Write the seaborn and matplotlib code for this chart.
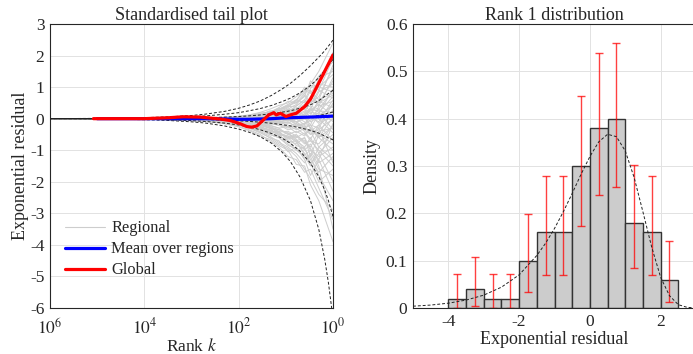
import matplotlib
matplotlib.use('Agg')
import matplotlib.pyplot as plt
from matplotlib.lines import Line2D
from matplotlib.ticker import NullLocator
import pandas as pd
import seaborn as sns

# ---------------- left panel: standardised tail plot ----------------
# ranks at which the regional curves were read
k_reg = [1, 2, 3, 4, 6, 9, 14, 22, 35, 60, 100, 200, 500, 2000, 10000, 1000000]
regional = [
    [2.4, 1.5, 1.1, 0.85, 0.6, 0.45, 0.3, 0.22, 0.15, 0.1, 0.07, 0.05, 0.03, 0.01, 0.0, 0],
    [2.1, 1.2, 0.8, 0.9, 0.7, 0.5, 0.42, 0.3, 0.2, 0.12, 0.08, 0.04, 0.02, 0.01, 0.0, 0],
    [1.8, 1.35, 0.95, 0.6, 0.4, 0.38, 0.25, 0.12, 0.09, 0.06, 0.03, 0.02, 0.01, 0.0, 0, 0],
    [1.6, 0.7, 0.5, 0.55, 0.3, 0.15, 0.2, 0.1, 0.02, -0.02, 0.01, 0.0, 0.01, 0, 0, 0],
    [1.4, 1.0, 0.6, 0.3, 0.35, 0.25, 0.1, 0.05, 0.08, 0.04, 0.02, 0.01, 0, 0, 0, 0],
    [1.2, 0.5, 0.7, 0.45, 0.2, 0.1, 0.05, -0.05, -0.02, 0.01, -0.01, 0, 0, 0, 0, 0],
    [1.1, 0.85, 0.3, 0.1, 0.25, 0.3, 0.15, 0.12, 0.05, 0.03, 0.04, 0.02, 0.01, 0, 0, 0],
    [0.9, 0.3, 0.4, 0.35, 0.15, 0.2, 0.08, 0.06, 0.07, 0.03, 0.01, 0.0, 0, 0, 0, 0],
    [0.8, 0.6, 0.1, 0.05, 0.2, 0.05, 0.1, 0.12, 0.05, 0.02, 0.0, -0.01, 0, 0, 0, 0],
    [0.7, 0.2, 0.35, 0.15, 0.0, 0.08, 0.0, 0.03, -0.02, 0.0, 0.01, 0.0, 0, 0, 0, 0],
    [0.6, -0.1, 0.05, 0.25, 0.1, 0.2, 0.05, 0.0, -0.04, 0.02, 0.01, 0.02, 0.01, 0, 0, 0],
    [0.55, 0.4, -0.2, -0.3, -0.1, 0.0, 0.08, 0.02, 0.05, 0.0, -0.02, 0.0, 0, 0, 0, 0],
    [0.5, -0.3, -0.2, 0.05, -0.1, -0.05, 0.0, -0.03, 0.0, -0.02, -0.01, 0.0, 0, 0, 0, 0],
    [0.4, 0.1, 0.05, -0.15, -0.25, -0.12, -0.08, -0.1, -0.05, -0.03, -0.02, -0.01, 0, 0, 0, 0],
    [0.3, -0.5, -0.3, 0.05, 0.0, -0.15, -0.1, 0.0, -0.06, -0.02, -0.03, -0.01, 0, 0, 0, 0],
    [0.2, 0.25, 0.3, 0.15, 0.05, -0.05, 0.1, 0.06, 0.02, 0.05, 0.02, 0.01, 0, 0, 0, 0],
    [0.15, -0.2, -0.4, -0.3, -0.1, 0.0, -0.12, -0.06, -0.02, -0.04, -0.02, -0.02, -0.01, 0, 0, 0],
    [0.05, -0.6, -0.2, -0.25, -0.35, -0.2, -0.12, -0.12, -0.06, -0.04, -0.04, -0.02, -0.01, 0, 0, 0],
    [-0.1, 0.3, 0.05, 0.0, 0.2, 0.22, 0.05, 0.0, 0.06, 0.02, 0.0, 0.0, 0, 0, 0, 0],
    [-0.2, -0.8, -0.7, -0.45, -0.6, -0.5, -0.35, -0.3, -0.2, -0.12, -0.09, -0.06, -0.03, -0.01, 0, 0],
    [-0.3, -0.4, -0.9, -0.75, -0.5, -0.6, -0.45, -0.28, -0.22, -0.15, -0.1, -0.07, -0.04, -0.01, 0, 0],
    [-0.45, 0.0, 0.3, 0.0, -0.1, 0.05, -0.05, -0.04, -0.02, 0.0, -0.02, 0.0, 0, 0, 0, 0],
    [-0.6, -1.1, -0.6, -0.9, -0.7, -0.55, -0.5, -0.35, -0.25, -0.18, -0.12, -0.08, -0.04, -0.02, 0, 0],
    [-0.8, -0.5, -1.2, -0.6, -0.8, -0.7, -0.4, -0.42, -0.3, -0.2, -0.14, -0.09, -0.05, -0.02, -0.01, 0],
    [-1.1, -1.4, -0.8, -1.0, -0.65, -0.45, -0.55, -0.3, -0.2, -0.16, -0.1, -0.06, -0.03, -0.01, 0, 0],
    [-1.3, -0.9, -1.5, -1.2, -1.0, -0.8, -0.6, -0.5, -0.35, -0.25, -0.16, -0.1, -0.06, -0.02, -0.01, 0],
    [-1.8, -1.6, -1.1, -1.4, -1.1, -0.9, -0.75, -0.55, -0.4, -0.28, -0.2, -0.12, -0.07, -0.03, -0.01, 0],
    [-2.3, -1.3, -1.8, -1.3, -0.9, -1.05, -0.7, -0.6, -0.45, -0.3, -0.2, -0.13, -0.07, -0.03, -0.01, 0],
    [-3.2, -2.2, -1.6, -1.7, -1.3, -1.2, -0.9, -0.7, -0.5, -0.35, -0.24, -0.15, -0.08, -0.03, -0.01, 0],
    [-3.9, -2.6, -2.1, -1.5, -1.45, -1.0, -0.85, -0.65, -0.55, -0.38, -0.26, -0.16, -0.09, -0.04, -0.01, 0],
    [1.9, 0.9, 1.2, 0.7, 0.5, 0.55, 0.35, 0.2, 0.18, 0.1, 0.06, 0.04, 0.02, 0.01, 0, 0],
    [1.5, 1.3, 0.5, 0.75, 0.45, 0.3, 0.32, 0.18, 0.1, 0.08, 0.05, 0.03, 0.01, 0, 0, 0],
    [1.3, 0.4, 0.9, 0.5, 0.6, 0.35, 0.2, 0.25, 0.12, 0.07, 0.05, 0.02, 0.01, 0, 0, 0],
    [1.0, 1.1, 0.65, 0.4, 0.15, 0.28, 0.18, 0.08, 0.1, 0.05, 0.03, 0.02, 0.0, 0, 0, 0],
    [0.95, 0.15, 0.2, 0.45, 0.3, 0.1, 0.14, 0.1, 0.04, 0.06, 0.02, 0.01, 0.01, 0, 0, 0],
    [0.75, 0.5, 0.55, 0.2, 0.1, 0.18, 0.06, 0.1, 0.06, 0.01, 0.02, 0.0, 0, 0, 0, 0],
    [0.65, 0.9, 0.45, 0.6, 0.4, 0.22, 0.26, 0.15, 0.1, 0.07, 0.04, 0.03, 0.01, 0, 0, 0],
    [0.45, 0.05, -0.1, 0.1, 0.05, -0.08, 0.03, 0.05, 0.0, -0.01, 0.0, 0.0, 0, 0, 0, 0],
    [0.35, 0.55, 0.15, 0.3, 0.25, 0.12, 0.0, 0.02, 0.04, 0.02, 0.0, 0.01, 0, 0, 0, 0],
    [0.25, -0.15, 0.1, -0.2, 0.0, 0.1, -0.02, -0.05, 0.01, -0.02, 0.0, -0.01, 0, 0, 0, 0],
    [0.1, 0.45, 0.25, 0.1, -0.15, -0.05, 0.04, -0.02, -0.04, 0.0, -0.01, 0.0, 0, 0, 0, 0],
    [0.0, -0.35, -0.5, -0.2, -0.25, -0.1, -0.16, -0.08, -0.07, -0.03, -0.03, -0.01, 0, 0, 0, 0],
    [-0.05, 0.15, -0.3, -0.1, 0.05, -0.05, -0.1, 0.0, -0.03, -0.01, 0.0, 0.0, 0, 0, 0, 0],
    [-0.25, -0.6, -0.35, -0.5, -0.3, -0.35, -0.2, -0.15, -0.1, -0.07, -0.05, -0.03, -0.01, 0, 0, 0],
    [-0.35, 0.2, -0.05, -0.15, -0.2, 0.0, -0.06, -0.1, -0.04, -0.03, -0.01, -0.01, 0, 0, 0, 0],
    [-0.5, -0.9, -0.4, -0.3, -0.45, -0.25, -0.3, -0.2, -0.12, -0.08, -0.06, -0.03, -0.02, 0, 0, 0],
    [-0.7, -0.2, -0.65, -0.4, -0.2, -0.3, -0.15, -0.18, -0.1, -0.06, -0.04, -0.02, -0.01, 0, 0, 0],
    [-0.9, -1.2, -1.0, -0.7, -0.55, -0.4, -0.42, -0.25, -0.18, -0.12, -0.08, -0.05, -0.02, -0.01, 0, 0],
    [-1.0, -0.6, -0.3, -0.55, -0.4, -0.5, -0.3, -0.22, -0.15, -0.1, -0.07, -0.04, -0.02, 0, 0, 0],
    [-1.2, -1.7, -1.3, -0.95, -0.85, -0.6, -0.45, -0.38, -0.25, -0.17, -0.12, -0.07, -0.04, -0.01, 0, 0],
    [-1.5, -1.0, -0.7, -0.8, -0.55, -0.65, -0.4, -0.3, -0.2, -0.13, -0.09, -0.06, -0.03, -0.01, 0, 0],
    [-1.6, -2.0, -1.4, -1.1, -0.75, -0.55, -0.5, -0.35, -0.28, -0.18, -0.13, -0.08, -0.04, -0.02, 0, 0],
    [-2.0, -1.1, -1.45, -0.9, -1.0, -0.7, -0.55, -0.45, -0.3, -0.22, -0.15, -0.09, -0.05, -0.02, 0, 0],
    [-2.6, -1.8, -1.2, -1.25, -0.95, -0.85, -0.6, -0.5, -0.35, -0.22, -0.16, -0.1, -0.05, -0.02, 0, 0],
    [-2.9, -2.4, -1.9, -1.6, -1.2, -0.95, -0.8, -0.6, -0.42, -0.3, -0.2, -0.13, -0.07, -0.03, -0.01, 0],
    [-3.5, -1.5, -1.0, -1.15, -0.7, -0.75, -0.5, -0.4, -0.3, -0.2, -0.14, -0.09, -0.05, -0.02, 0, 0],
    [1.7, 0.6, 0.85, 1.0, 0.55, 0.4, 0.28, 0.22, 0.14, 0.09, 0.06, 0.04, 0.02, 0.01, 0, 0],
    [0.85, 1.0, 1.05, 0.8, 0.5, 0.42, 0.3, 0.17, 0.12, 0.08, 0.05, 0.03, 0.01, 0, 0, 0],
    [-0.15, -1.3, -0.95, -0.6, -0.7, -0.45, -0.35, -0.25, -0.16, -0.1, -0.07, -0.04, -0.02, 0, 0, 0],
    [-1.4, -0.3, -0.5, -0.35, -0.15, -0.25, -0.22, -0.12, -0.08, -0.05, -0.04, -0.02, -0.01, 0, 0, 0],
]

k_mean = [1, 2, 3, 5, 8, 12, 20, 35, 60, 100, 200, 500, 1000, 3000, 10000, 100000]
mean_res = [0.08, 0.06, 0.05, 0.04, 0.03, 0.02, 0.0, -0.01, -0.02, -0.02, -0.01, 0.0, 0.0, 0.0, 0.0, 0.0]

k_glob = [1, 2, 3, 4, 6, 8, 10, 13, 16, 18, 23, 30, 41, 53, 67, 93, 150, 250, 650, 1500, 3000, 10000, 120000]
glob_res = [2.02, 1.13, 0.62, 0.38, 0.17, 0.12, 0.07, 0.17, 0.12, 0.19, 0.12, -0.04, -0.23, -0.27,
            -0.25, -0.16, -0.06, -0.01, 0.05, 0.06, 0.03, 0.0, 0.0]

# pointwise quantile envelopes (dashed)
k_band = [1, 1.25, 1.5, 2, 3, 5, 8, 12, 20, 35, 60, 100, 200, 500, 1000, 3000, 10000, 100000, 1000000]
band_999 = [2.49, 2.30, 2.15, 1.95, 1.68, 1.37, 1.12, 0.94, 0.74, 0.56, 0.43, 0.33, 0.23, 0.145, 0.10, 0.058, 0.032, 0.01, 0.0]
band_975 = [1.88, 1.69, 1.53, 1.30, 1.05, 0.82, 0.65, 0.54, 0.42, 0.32, 0.25, 0.19, 0.14, 0.087, 0.062, 0.036, 0.02, 0.006, 0.0]
band_750 = [0.90, 0.80, 0.71, 0.57, 0.44, 0.33, 0.25, 0.205, 0.157, 0.117, 0.089, 0.068, 0.048, 0.030, 0.021, 0.012, 0.007, 0.002, 0.0]
band_500 = [0.21, 0.18, 0.14, 0.095, 0.063, 0.036, 0.022, 0.014, 0.009, 0.005, 0.003, 0.002, 0.001, 0, 0, 0, 0, 0, 0]
band_250 = [-0.67, -0.61, -0.55, -0.46, -0.37, -0.29, -0.23, -0.19, -0.147, -0.112, -0.086, -0.067, -0.047, -0.030, -0.021, -0.012, -0.007, -0.002, 0]
band_025 = [-3.10, -2.60, -2.26, -1.84, -1.41, -1.03, -0.78, -0.62, -0.47, -0.35, -0.26, -0.20, -0.14, -0.089, -0.062, -0.036, -0.02, -0.006, 0]
band_001 = [-6.33, -5.20, -4.45, -3.51, -2.60, -1.85, -1.36, -1.06, -0.78, -0.57, -0.43, -0.33, -0.23, -0.14, -0.10, -0.058, -0.032, -0.01, 0]

# ---------------- right panel: rank 1 distribution ----------------
bin_edges = [-4, -3.5, -3, -2.5, -2, -1.5, -1, -0.5, 0, 0.5, 1, 1.5, 2, 2.5]
bin_mid = [-3.75, -3.25, -2.75, -2.25, -1.75, -1.25, -0.75, -0.25, 0.25, 0.75, 1.25, 1.75, 2.25]
density = [0.02, 0.04, 0.02, 0.02, 0.10, 0.16, 0.16, 0.30, 0.38, 0.40, 0.18, 0.16, 0.06]
ci_low = [0.0, 0.004, 0.0, 0.0, 0.033, 0.070, 0.070, 0.174, 0.238, 0.255, 0.084, 0.070, 0.013]
ci_high = [0.072, 0.108, 0.072, 0.072, 0.199, 0.279, 0.279, 0.447, 0.538, 0.559, 0.303, 0.279, 0.141]

fit_x = [-5, -4.5, -4, -3.5, -3, -2.5, -2, -1.5, -1.25, -1, -0.75, -0.5, -0.25, 0, 0.25, 0.5,
         0.75, 1, 1.25, 1.5, 1.75, 2, 2.25, 2.5, 2.75, 3]
fit_y = [0.0038, 0.0062, 0.0102, 0.0167, 0.0272, 0.044, 0.070, 0.111, 0.137, 0.168, 0.2035, 0.242,
         0.2825, 0.320, 0.351, 0.367, 0.362, 0.332, 0.276, 0.203, 0.128, 0.065, 0.026, 0.007, 0.0014, 0.0001]

sns.set_style('whitegrid')
plt.rcParams['font.family'] = ['Liberation Serif', 'DejaVu Serif']
plt.rcParams['mathtext.fontset'] = 'stix'
plt.rcParams['axes.unicode_minus'] = False

fs = 12.5
dark = '#262626'
gridc = '#e2e2e2'
dash = (0, (3, 2))

fig = plt.figure(figsize=(6.93, 3.54), dpi=100)
ax1 = fig.add_axes([50/693, 46/354, 283/693, 284/354])
ax2 = fig.add_axes([413/693, 46/354, 283/693, 284/354])

# left
reg_df = pd.DataFrame([(i, k, v) for i, row in enumerate(regional) for k, v in zip(k_reg, row)],
                      columns=['region', 'k', 'res'])
ax1.set_xscale('log')
sns.lineplot(data=reg_df, x='k', y='res', units='region', estimator=None,
             color='#cdcdcd', lw=0.7, ax=ax1, legend=False)
for b in [band_999, band_975, band_750, band_500, band_250, band_025, band_001]:
    ax1.plot(k_band, b, color='#222222', ls=dash, lw=0.7)
sns.lineplot(x=k_mean, y=mean_res, color='#0000ff', lw=2.3, ax=ax1)
sns.lineplot(x=k_glob, y=glob_res, color='#ff0000', lw=2.3, ax=ax1)

ax1.set_xlim(1e6, 1)
ax1.set_ylim(-6, 3)
ax1.set_xticks([1e6, 1e4, 1e2, 1])
ax1.set_xticklabels(['$10^6$', '$10^4$', '$10^2$', '$10^0$'])
ax1.xaxis.set_minor_locator(NullLocator())
ax1.set_yticks(range(-6, 4))
ax1.set_title('Standardised tail plot', fontsize=fs + 0.5, pad=3)
ax1.set_xlabel('Rank $k$', fontsize=fs, labelpad=0)
ax1.set_ylabel('Exponential residual', fontsize=fs + 0.5, labelpad=1)

handles = [Line2D([], [], color='#cdcdcd', lw=0.8),
           Line2D([], [], color='#0000ff', lw=2.3),
           Line2D([], [], color='#ff0000', lw=2.3)]
ax1.legend(handles, ['Regional', 'Mean over regions', 'Global'], loc='lower left',
           bbox_to_anchor=(0.02, 0.07), frameon=False, fontsize=11.8,
           handlelength=2.4, handletextpad=0.4, labelspacing=0.3, borderaxespad=0.2)

# right
sns.histplot(x=bin_mid, weights=density, bins=bin_edges, stat='count', ax=ax2,
             facecolor='#cccccc', edgecolor='#333333', linewidth=1.0, alpha=1)
yerr = [[d - lo for d, lo in zip(density, ci_low)], [hi - d for d, hi in zip(density, ci_high)]]
ax2.errorbar(bin_mid, density, yerr=yerr, fmt='none', ecolor='#ff0000', alpha=0.75,
             elinewidth=1.0, capsize=3, capthick=1.0)
ax2.plot(fit_x, fit_y, color='#222222', ls=dash, lw=0.7)
ax2.set_xlim(-5, 3)
ax2.set_ylim(0, 0.6)
ax2.set_xticks([-4, -2, 0, 2])
ax2.set_yticks([0, 0.1, 0.2, 0.3, 0.4, 0.5, 0.6])
ax2.set_yticklabels(['0', '0.1', '0.2', '0.3', '0.4', '0.5', '0.6'])
ax2.set_title('Rank 1 distribution', fontsize=fs + 0.5, pad=3)
ax2.set_xlabel('Exponential residual', fontsize=fs + 0.5, labelpad=1)
ax2.set_ylabel('Density', fontsize=fs + 0.5, labelpad=4)

for ax in (ax1, ax2):
    ax.set_axisbelow(True)
    ax.grid(True, color=gridc, lw=0.7)
    for s in ax.spines.values():
        s.set_visible(True)
        s.set_color(dark)
        s.set_linewidth(0.8)
    ax.tick_params(direction='in', length=3, width=0.6, color=dark, labelcolor=dark,
                   labelsize=fs, pad=4)
ax1.tick_params(axis='x', pad=7)

fig.savefig('out.png', dpi=100)
